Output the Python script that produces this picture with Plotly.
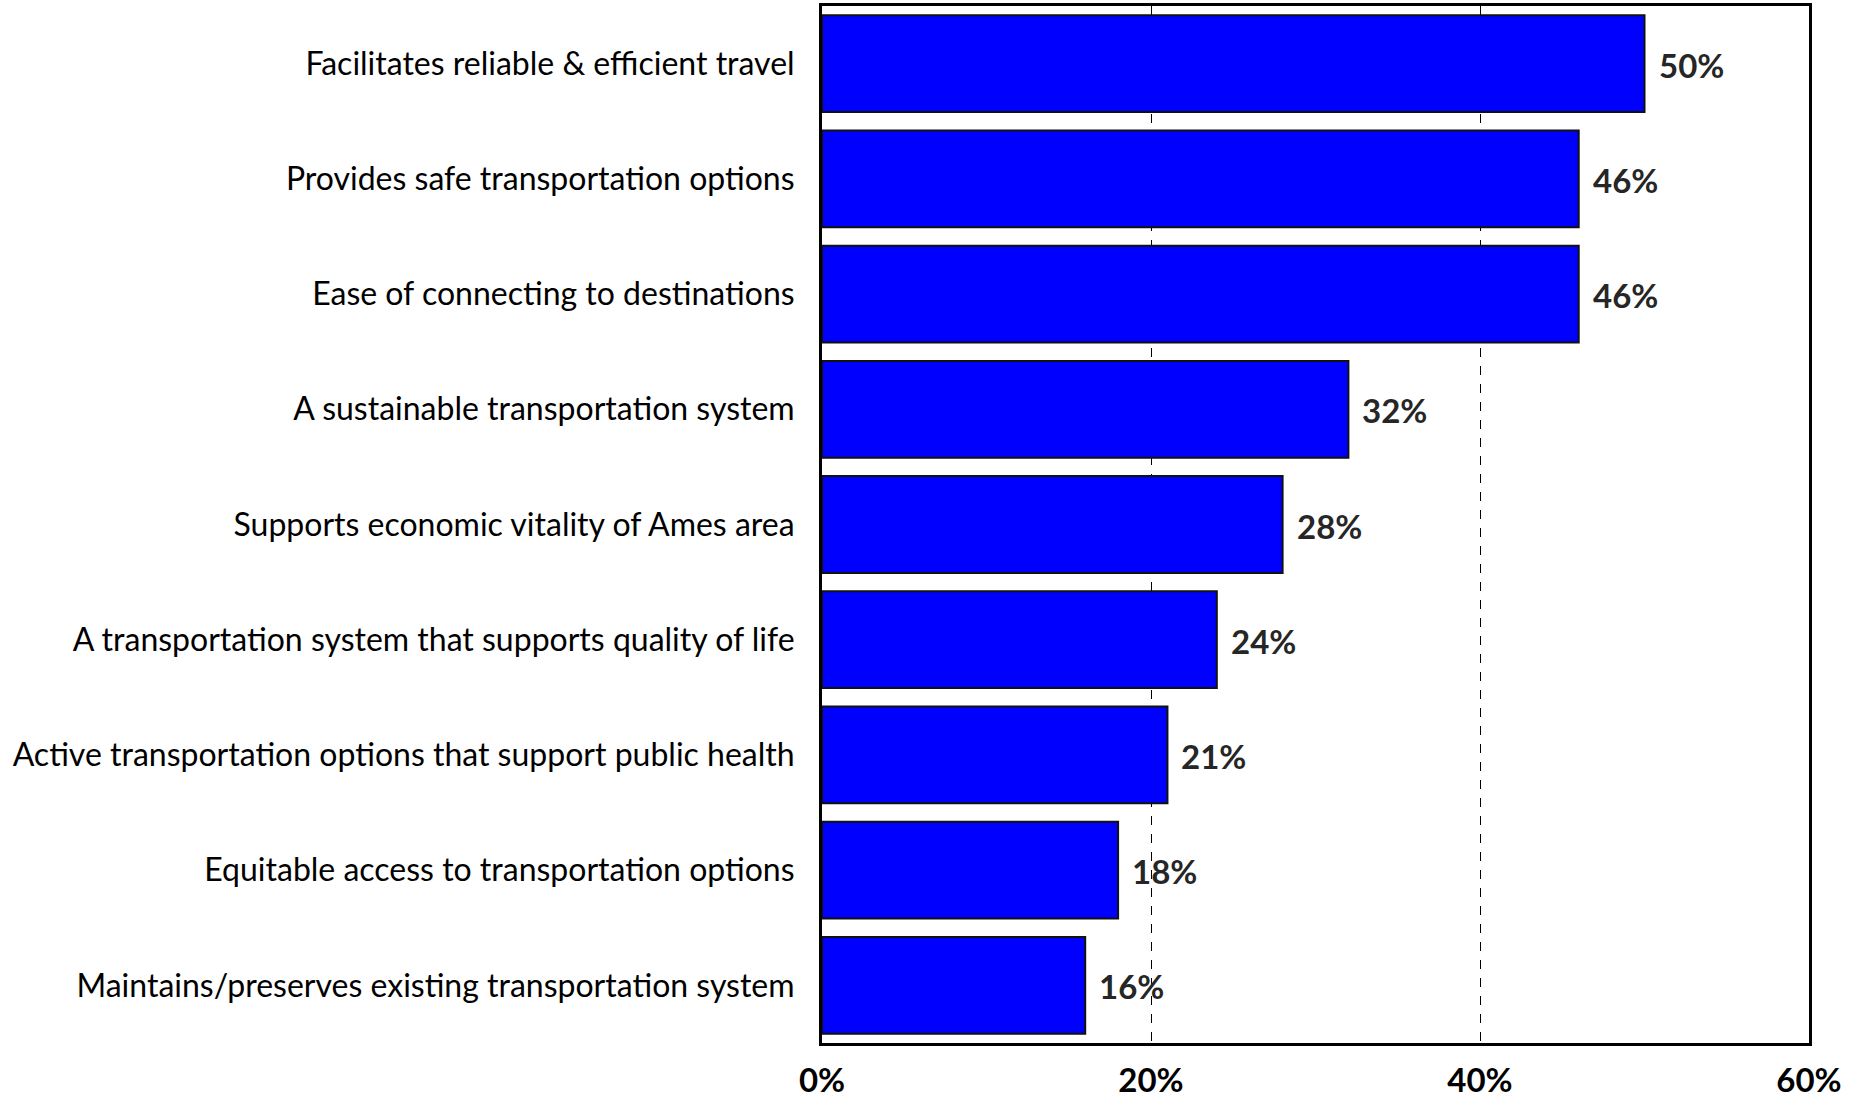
import plotly.graph_objects as go

# Survey results: share of respondents choosing each transportation goal
goals = [
    "Facilitates reliable & efficient travel",
    "Provides safe transportation options",
    "Ease of connecting to destinations",
    "A sustainable transportation system",
    "Supports economic vitality of Ames area",
    "A transportation system that supports quality of life",
    "Active transportation options that support public health",
    "Equitable access to transportation options",
    "Maintains/preserves existing transportation system",
]
shares = [50, 46, 46, 32, 28, 24, 21, 18, 16]
x_ticks = [0, 20, 40, 60]
x_tick_labels = ["0%", "20%", "40%", "60%"]

LABEL_FONT = "Lato, 'Open Sans', sans-serif"

fig = go.Figure()
fig.add_trace(go.Bar(
    x=shares,
    y=goals,
    orientation="h",
    marker=dict(color="#0000FF", line=dict(color="#111111", width=2)),
    hoverinfo="x+y",
))

# value labels just to the right of each bar
for g, v in zip(goals, shares):
    fig.add_annotation(
        x=v, y=g, xref="x", yref="y",
        text=f"<b>{v}%</b>", showarrow=False,
        xanchor="left", xshift=12, yshift=-1,
        font=dict(family=LABEL_FONT, size=33, color="#262626"),
    )

fig.update_layout(
    width=1862, height=1100,
    margin=dict(l=822, r=53, t=6, b=57),
    paper_bgcolor="white", plot_bgcolor="white",
    bargap=0.16,
    showlegend=False,
)
fig.update_xaxes(
    range=[0, 60],
    tickvals=x_ticks,
    ticktext=[f"<b>{t}</b>" for t in x_tick_labels],
    tickfont=dict(family=LABEL_FONT, size=33, color="black"),
    ticks="", ticklabelstandoff=6,
    showgrid=True, gridcolor="black", gridwidth=1, griddash="dash",
    showline=True, mirror=True, linecolor="black", linewidth=3,
    zeroline=False, automargin=False,
)
fig.update_yaxes(
    categoryorder="array", categoryarray=goals,
    autorange="reversed",
    tickfont=dict(family=LABEL_FONT, size=32, color="black"),
    ticks="", ticklabelstandoff=18,
    showgrid=False,
    showline=True, mirror=True, linecolor="black", linewidth=3,
    automargin=False,
)

fig.write_html("out.html")
